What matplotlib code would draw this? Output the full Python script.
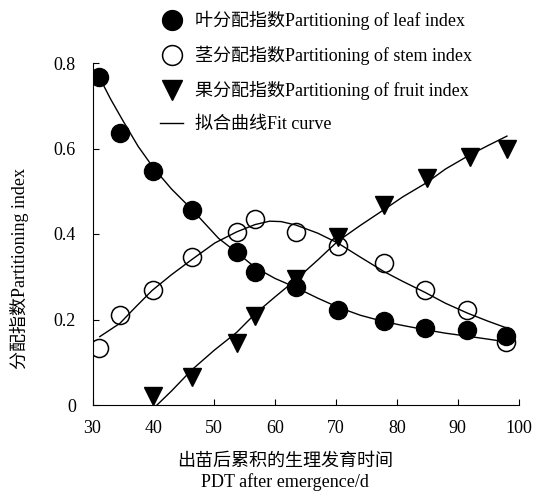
import numpy as np
import matplotlib
matplotlib.use("Agg")
import matplotlib.pyplot as plt

# Data
pdt = [31.0, 34.5, 40.0, 46.3, 53.7, 56.7, 63.4, 70.3, 77.9, 84.7, 91.6, 97.9]
leaf_idx = [0.768, 0.637, 0.548, 0.457, 0.357, 0.312, 0.275, 0.222, 0.197, 0.181, 0.176, 0.162]
stem_idx = [0.134, 0.211, 0.269, 0.346, 0.404, 0.435, 0.404, 0.371, 0.333, 0.269, 0.222, 0.148]
pdt_fruit = [40.0, 46.3, 53.7, 56.7, 63.4, 70.3, 77.9, 84.9, 92.0, 98.1]
fruit_idx = [0.021, 0.065, 0.144, 0.208, 0.294, 0.394, 0.468, 0.531, 0.581, 0.600]

# fit curves
leaf_fit_x = [31.0, 33.0, 35.0, 37.5, 40.0, 43.0, 46.3, 50.7, 53.7, 56.7, 60.0, 63.4, 67.0, 70.3, 74.0, 77.9, 81.0, 84.7, 88.0, 91.6, 95.0, 97.9]
leaf_fit_y = [0.770, 0.715, 0.665, 0.605, 0.555, 0.505, 0.458, 0.390, 0.357, 0.322, 0.296, 0.275, 0.250, 0.229, 0.210, 0.195, 0.186, 0.176, 0.168, 0.161, 0.154, 0.148]
stem_fit_x = [31.2, 34.5, 37.0, 39.8, 43.0, 46.3, 50.1, 53.7, 56.7, 59.1, 61.0, 63.4, 67.0, 70.3, 74.0, 77.9, 81.0, 84.7, 88.0, 91.6, 95.0, 97.9]
stem_fit_y = [0.160, 0.191, 0.228, 0.268, 0.305, 0.340, 0.379, 0.405, 0.422, 0.430, 0.429, 0.421, 0.402, 0.379, 0.346, 0.312, 0.289, 0.263, 0.238, 0.215, 0.196, 0.181]
fruit_fit_x = [40.6, 43.0, 46.3, 50.0, 53.7, 56.7, 60.0, 63.4, 67.0, 70.3, 74.0, 77.9, 81.0, 84.9, 88.0, 92.0, 95.0, 98.1]
fruit_fit_y = [0.000, 0.033, 0.082, 0.128, 0.170, 0.213, 0.253, 0.293, 0.339, 0.383, 0.420, 0.457, 0.487, 0.520, 0.552, 0.585, 0.607, 0.629]

labels = ["叶分配指数Partitioning of leaf index",
          "茎分配指数Partitioning of stem index",
          "果分配指数Partitioning of fruit index",
          "拟合曲线Fit curve"]
yticks = [0, 0.2, 0.4, 0.6, 0.8]
ytick_labels = ["0", "0.2", "0.4", "0.6", "0.8"]
xticks = [30, 40, 50, 60, 70, 80, 90, 100]

plt.rcParams['font.family'] = ['Liberation Serif', 'Noto Sans CJK SC']
plt.rcParams['font.size'] = 13

fig = plt.figure(figsize=(5.36, 4.93), dpi=100)
ax = fig.add_axes([92.5 / 536, 88 / 493, 426 / 536, 342 / 493])

ms = 13
ax.plot(leaf_fit_x, leaf_fit_y, color='k', lw=1.0, zorder=2)
ax.plot(stem_fit_x, stem_fit_y, color='k', lw=1.0, zorder=2)
ax.plot(fruit_fit_x, fruit_fit_y, color='k', lw=1.0, zorder=2)
h1, = ax.plot(pdt, leaf_idx, 'o', color='k', ms=ms, zorder=3)
h2, = ax.plot(pdt, stem_idx, 'o', mfc='none', mec='k', mew=1.1, ms=ms, zorder=4)
h3, = ax.plot(pdt_fruit, fruit_idx, 'v', color='k', ms=ms, zorder=3)
h4, = ax.plot([], [], '-', color='k', lw=1.0)

ax.set_xlim(30, 100)
ax.set_ylim(0, 0.8)
ax.set_xticks(xticks)
ax.set_yticks(yticks)
ax.set_yticklabels(ytick_labels)
ax.spines['top'].set_visible(False)
ax.spines['right'].set_visible(False)
ax.tick_params(direction='in', length=4, labelsize=13)
ax.tick_params(axis='x', pad=11)
ax.tick_params(axis='y', pad=12)

ax.set_xlabel("出苗后累积的生理发育时间\nPDT after emergence/d", fontsize=13,
              linespacing=1.25, va='top')
ax.xaxis.set_label_coords(0.452, -0.14)
ax.set_ylabel("分配指数Partitioning index", fontsize=13)
ax.yaxis.set_label_coords(-0.15, 0.4)

fig.legend([h1, h2, h3, h4], labels, loc='upper left',
           bbox_to_anchor=(160 / 536, 1 - 11 / 493), frameon=False,
           borderpad=0, borderaxespad=0, handlelength=1.3,
           handletextpad=0.65, labelspacing=0.87, fontsize=13,
           markerscale=1.1)

fig.savefig("out.png", dpi=100)
